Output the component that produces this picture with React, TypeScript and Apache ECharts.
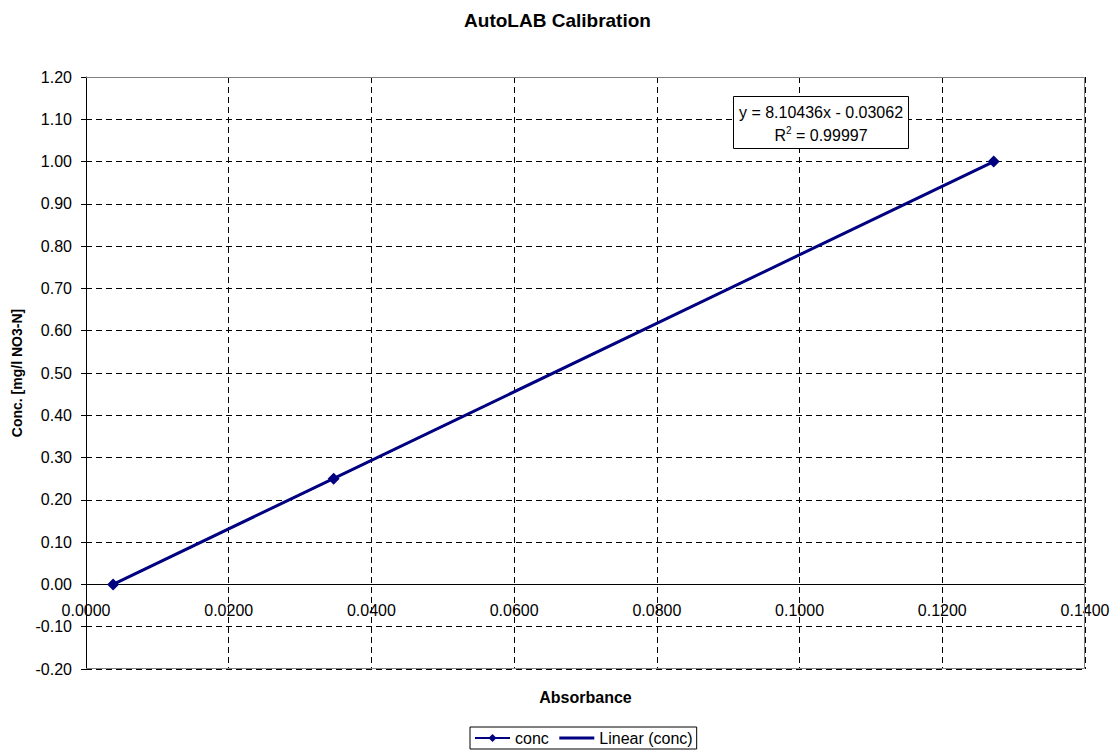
import React, { useEffect, useRef } from "react";
import * as echarts from "echarts";

const titleText = "AutoLAB Calibration";
const xAxisName = "Absorbance";
const yAxisName = "Conc. [mg/l NO3-N]";
const absorbance = [0.0038, 0.0347, 0.1272];
const conc = [0.0, 0.25, 1.0];
const trendX = [0.0038, 0.1272];
const trendY = [0.0002, 1.0];
const equationLine = "y = 8.10436x - 0.03062";
const r2Value = "0.99997";
const seriesNames = ["conc", "Linear (conc)"];
const xMin = 0, xMax = 0.14, xStep = 0.02;
const yMin = -0.2, yMax = 1.2, yStep = 0.1;

const FONT = "Liberation Sans, Arial, sans-serif";
const NAVY = "#000080";

export default function App() {
  const ref = useRef<HTMLDivElement>(null);
  useEffect(() => {
    if (!ref.current) return;
    const chart = echarts.init(ref.current, undefined, { renderer: "svg" });
    const L = 86, T = 77, R = 1085, B = 669;
    const plotH = B - T;
    const zeroOffset = -(plotH * (0 - yMin)) / (yMax - yMin);
    chart.setOption({
      animation: false,
      backgroundColor: "#fff",
      textStyle: { fontFamily: FONT, color: "#000" },
      title: {
        text: titleText,
        left: "center",
        top: 6,
        textStyle: { fontFamily: FONT, fontSize: 19, fontWeight: "bold", color: "#000" },
      },
      grid: {
        left: L,
        top: T,
        right: 1115 - R,
        bottom: 752 - B,
        containLabel: false,
        outerBoundsMode: "none",
      },
      xAxis: {
        type: "value",
        min: xMin,
        max: xMax,
        interval: xStep,
        offset: zeroOffset,
        name: xAxisName,
        nameLocation: "middle",
        nameGap: 105,
        nameTextStyle: { fontFamily: FONT, fontSize: 16, fontWeight: "bold", color: "#000" },
        axisLine: { onZero: false, lineStyle: { color: "#000", width: 1 } },
        axisTick: { show: false },
        axisLabel: {
          fontFamily: FONT,
          fontSize: 16,
          color: "#000",
          margin: 18,
          formatter: (v: number) => v.toFixed(4),
        },
        splitLine: { show: true, lineStyle: { color: "#000", type: [6, 4], width: 1 } },
      },
      yAxis: {
        type: "value",
        min: yMin,
        max: yMax,
        interval: yStep,
        name: yAxisName,
        nameLocation: "middle",
        nameGap: 62,
        nameTextStyle: { fontFamily: FONT, fontSize: 14, fontWeight: "bold", color: "#000" },
        axisLine: { onZero: false, lineStyle: { color: "#000", width: 1 } },
        axisTick: { show: true, inside: false, length: 5, lineStyle: { color: "#000" } },
        axisLabel: {
          fontFamily: FONT,
          fontSize: 16,
          color: "#000",
          margin: 14,
          formatter: (v: number) => v.toFixed(2),
        },
        splitLine: { show: true, lineStyle: { color: "#000", type: [6, 4], width: 1 } },
      },
      legend: {
        left: 470,
        top: 727,
        itemGap: 9,
        itemWidth: 35,
        itemHeight: 10,
        borderColor: "#000",
        borderWidth: 1,
        borderRadius: 0,
        padding: [3, 4, 3, 4],
        textStyle: { fontFamily: FONT, fontSize: 16, color: "#000" },
        data: [
          { name: seriesNames[0] },
          { name: seriesNames[1], itemStyle: { opacity: 0 }, lineStyle: { width: 3 } },
        ],
      },
      series: [
        {
          name: seriesNames[0],
          type: "line",
          data: absorbance.map((x, i) => [x, conc[i]]),
          symbol: "diamond",
          symbolSize: 12,
          lineStyle: { color: NAVY, width: 1.5 },
          itemStyle: { color: NAVY },
          z: 4,
        },
        {
          name: seriesNames[1],
          type: "line",
          data: trendX.map((x, i) => [x, trendY[i]]),
          symbol: "none",
          lineStyle: { color: NAVY, width: 3 },
          itemStyle: { color: NAVY },
          z: 3,
        },
      ],
      graphic: [
        {
          type: "polyline",
          z: 1,
          silent: true,
          shape: { points: [[L, T + 0.5], [R - 0.5, T + 0.5], [R - 0.5, B - 0.5], [L, B - 0.5]] },
          style: { stroke: "#808080", lineWidth: 1, fill: "none" },
        },
        {
          type: "rect",
          z: 100,
          silent: true,
          shape: { x: 733.5, y: 96.5, width: 175, height: 52 },
          style: { fill: "#fff", stroke: "#000", lineWidth: 1 },
        },
        {
          type: "text",
          z: 101,
          silent: true,
          x: 821,
          y: 112,
          style: {
            text: equationLine,
            fontFamily: FONT,
            fontSize: 16,
            fill: "#000",
            align: "center",
            verticalAlign: "middle",
          },
        },
        {
          type: "text",
          z: 101,
          silent: true,
          x: 821,
          y: 134,
          style: {
            text: "{r|R}{s|2}{r| = " + r2Value + "}",
            fontFamily: FONT,
            fontSize: 16,
            fill: "#000",
            align: "center",
            verticalAlign: "middle",
            rich: {
              r: { fontFamily: FONT, fontSize: 16, fill: "#000", lineHeight: 18, verticalAlign: "bottom" },
              s: { fontFamily: FONT, fontSize: 10, fill: "#000", lineHeight: 18, verticalAlign: "top" },
            },
          },
        },
      ],
    });
    return () => chart.dispose();
  }, []);
  return (
    <div
      ref={ref}
      style={{ position: "fixed", left: 0, top: 0, width: 1115, height: 752, background: "#fff" }}
    />
  );
}
